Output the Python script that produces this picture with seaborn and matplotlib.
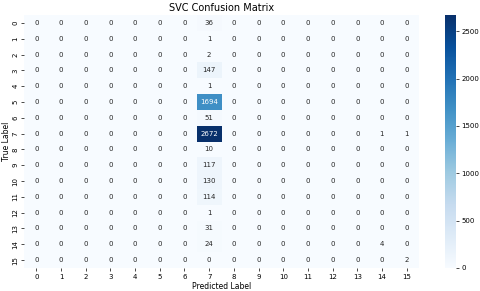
import numpy as np
import pandas as pd
import matplotlib
matplotlib.use("Agg")
import matplotlib.pyplot as plt
import seaborn as sns

labels = list(range(16))
# predicted column 7 counts per true label
col7 = [36, 1, 2, 147, 1, 1694, 51, 2672, 10, 117, 130, 114, 1, 31, 24, 0]
# other non-zero entries: (true, predicted, count)
extras = [(7, 14, 1), (7, 15, 1), (14, 14, 4), (15, 15, 2)]

cm = np.zeros((16, 16), dtype=int)
cm[:, 7] = col7
for r, c, v in extras:
    cm[r, c] = v

df = pd.DataFrame(cm, index=labels, columns=labels)

fig = plt.figure(figsize=(4.8, 2.91), dpi=100)
ax = fig.add_axes([24 / 480, 1 - 268 / 291, 395 / 480, 253 / 291])
cax = fig.add_axes([445 / 480, 1 - 268 / 291, 11 / 480, 253 / 291])

sns.heatmap(df, annot=True, fmt="d", cmap="Blues", ax=ax, cbar_ax=cax,
            vmin=0, vmax=2672, annot_kws={"fontsize": 5})

ax.set_title("SVC Confusion Matrix", fontsize=7, pad=3)
ax.set_xlabel("Predicted Label", fontsize=5.5, labelpad=2)
ax.set_ylabel("True Label", fontsize=5.5, labelpad=1)
ax.tick_params(axis="both", labelsize=5, length=2, width=0.5, pad=2)
ax.set_yticklabels(ax.get_yticklabels(), rotation=90, va="center")
cax.tick_params(labelsize=5, length=2, width=0.5, pad=2)
cax.set_yticks([0, 500, 1000, 1500, 2000, 2500])

fig.savefig("out.png", dpi=100)
